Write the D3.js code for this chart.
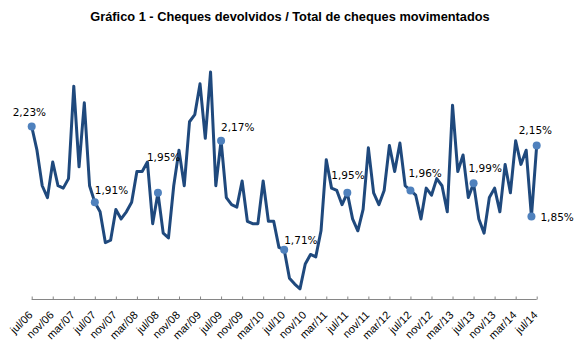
<!DOCTYPE html>
<html>
<head>
<meta charset="utf-8">
<script src="https://cdn.jsdelivr.net/npm/d3@7"></script>
<style>
  body { margin: 0; background: #fff; }
  .title { font-family: "Liberation Sans", Arial, sans-serif; font-weight: bold; font-size: 12.8px; fill: #000; }
  .tick-label { font-family: "Liberation Sans", Arial, sans-serif; font-size: 11px; fill: #000; }
  .pt-label { font-family: "DejaVu Sans", Verdana, sans-serif; font-size: 10.5px; fill: #000; }
</style>
</head>
<body>
<svg id="chart" width="587" height="350"></svg>
<script>
// months jul/06 .. jul/14
const monthNames = ['jan','fev','mar','abr','mai','jun','jul','ago','set','out','nov','dez']
const months = []
for (let k = 0; k <= 96; k++) {
  const m = (6 + k) % 12
  const y = 6 + Math.floor((6 + k) / 12)
  months.push(monthNames[m] + '/' + String(y).padStart(2, '0'))
}

// cheques devolvidos / total movimentados (%)
const values = [
  2.23, 2.13, 1.98, 1.93, 2.08, 1.98, 1.97, 2.01, 2.40, 2.06, 2.33, 1.98,
  1.91, 1.87, 1.74, 1.75, 1.88, 1.84, 1.87, 1.91, 2.04, 2.04, 2.08, 1.82,
  1.95, 1.78, 1.76, 1.98, 2.13, 1.98, 2.25, 2.28, 2.41, 2.18, 2.46, 1.98,
  2.17, 1.93, 1.90, 1.89, 2.00, 1.83, 1.82, 1.82, 2.00, 1.83, 1.83, 1.72,
  1.71, 1.59, 1.565, 1.545, 1.65, 1.69, 1.68, 1.79, 2.09, 1.97, 1.96, 1.90,
  1.95, 1.84, 1.79, 1.88, 2.14, 1.95, 1.90, 1.96, 2.15, 2.04, 2.16, 1.98,
  1.96, 1.94, 1.84, 1.97, 1.94, 2.01, 1.98, 1.87, 2.32, 2.04, 2.11, 1.93,
  1.99, 1.84, 1.78, 1.93, 1.97, 1.87, 2.07, 1.95, 2.17, 2.07, 2.13, 1.85,
  2.15
]

// tick labels every 4 months
const tickLabels = months.filter((d, i) => i % 4 === 0)

// highlighted points (by month)
const labelled = ['jul/06','jul/07','jul/08','jul/09','jul/10','jul/11','jul/12','jul/13','jun/14','jul/14']
// label offsets from the point (hand placed like the original)
const labelOffset = {
  'jul/06': [-19, -10], 'jul/07': [0, -8], 'jul/08': [-11, -32], 'jul/09': [0, -10],
  'jul/10': [0, -6], 'jul/11': [-16, -14], 'jul/12': [-2, -13], 'jul/13': [-5, -11],
  'jun/14': [9, 4], 'jul/14': [-18, -11]
}

const svg = d3.select('#chart')

const x = d3.scalePoint().domain(months).range([31.7, 536.7])
const y = d3.scaleLinear().domain([1.5, 2.5]).range([299.5, 62.5])

svg.append('text')
  .attr('class', 'title')
  .attr('x', 290)
  .attr('y', 21)
  .attr('text-anchor', 'middle')
  .text('Gráfico 1 - Cheques devolvidos / Total de cheques movimentados')

// x axis
const xAxis = d3.axisTop(x).tickValues(tickLabels).tickSize(3).tickFormat('')
const gx = svg.append('g')
  .attr('transform', 'translate(0,299.5)')
  .call(xAxis)
gx.select('.domain').attr('stroke', '#868686').attr('d', `M${x.range()[0]},0H${x.range()[1]}`)
gx.selectAll('.tick line').attr('stroke', '#868686')

svg.append('g').selectAll('text')
  .data(tickLabels)
  .enter()
  .append('text')
  .attr('class', 'tick-label')
  .attr('text-anchor', 'end')
  .attr('transform', d => `translate(${x(d) - 1},313) rotate(-45)`)
  .attr('dy', '0.35em')
  .text(d => d)

// line
const line = d3.line()
  .x((d, i) => x(months[i]))
  .y(d => y(d))

svg.append('path')
  .datum(values)
  .attr('fill', 'none')
  .attr('stroke', '#1F497D')
  .attr('stroke-width', 3)
  .attr('stroke-linejoin', 'round')
  .attr('d', line)

// markers + labels
const pts = labelled.map(m => ({ m: m, v: values[months.indexOf(m)] }))

svg.append('g').selectAll('circle')
  .data(pts)
  .enter()
  .append('circle')
  .attr('cx', d => x(d.m))
  .attr('cy', d => y(d.v))
  .attr('r', 4)
  .attr('fill', '#4F81BD')

svg.append('g').selectAll('text')
  .data(pts)
  .enter()
  .append('text')
  .attr('class', 'pt-label')
  .attr('x', d => x(d.m) + labelOffset[d.m][0])
  .attr('y', d => y(d.v) + labelOffset[d.m][1])
  .text(d => d.v.toFixed(2).replace('.', ',') + '%')
</script>
</body>
</html>
